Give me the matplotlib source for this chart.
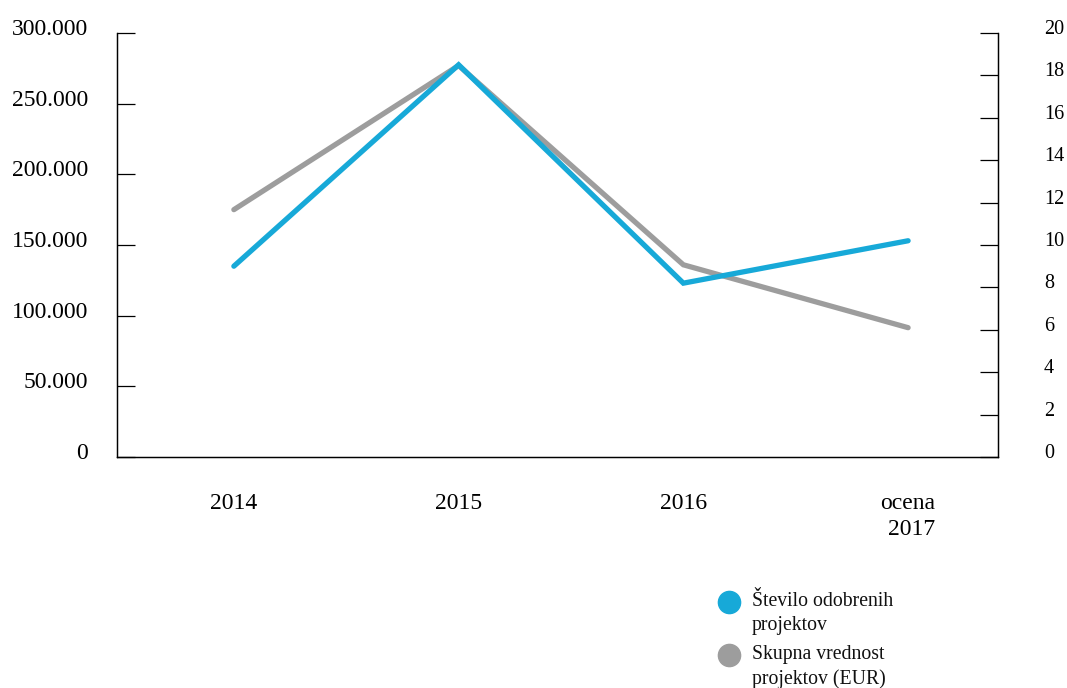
import matplotlib
matplotlib.use("Agg")
import matplotlib.pyplot as plt
from matplotlib.lines import Line2D
from matplotlib.transforms import ScaledTranslation

plt.rcParams['font.family'] = ['Liberation Serif', 'DejaVu Serif']

# podatki
years = ['2014', '2015', '2016', 'ocena\n2017']
stevilo = [9.0, 18.5, 8.2, 10.2]                  # desna os
vrednost = [175000, 277000, 136000, 91500]        # leva os (EUR)
left_ticks = [0, 50000, 100000, 150000, 200000, 250000, 300000]
left_labels = ['0', '50.000', '100.000', '150.000', '200.000', '250.000', '300.000']
right_ticks = list(range(0, 21, 2))

blue = '#17a9d8'
grey = '#9d9d9d'

fig = plt.figure(figsize=(10.67, 6.88), dpi=100)
ax = fig.add_axes([117/1067, 1 - 457/688, (998 - 117)/1067, (457 - 33)/688])
ax2 = ax.twinx()

x = list(range(len(years)))
ax.plot(x, vrednost, color=grey, lw=3.8, solid_capstyle='round', solid_joinstyle='miter')
ax2.plot(x, stevilo, color=blue, lw=3.8, solid_capstyle='round', solid_joinstyle='miter')

ax.set_xlim(-0.52, 3.4)
ax.set_ylim(0, 300000)
ax2.set_ylim(0, 20)

for a in (ax, ax2):
    a.spines['top'].set_visible(False)
    for s in a.spines.values():
        s.set_linewidth(0.9)

ax.set_yticks(left_ticks)
ax.set_yticklabels(left_labels)
ax.tick_params(axis='y', direction='in', length=13, width=0.9, pad=21, labelsize=17)
ax2.set_yticks(right_ticks)
ax2.tick_params(axis='y', direction='in', length=13, width=0.9, pad=33, labelsize=14.5)

ax.set_xticks(x)
ax.set_xticklabels(years, multialignment='right', linespacing=1.3)
ax.tick_params(axis='x', length=0, pad=26, labelsize=17)

# oznake osi malo dvignjene nad črtice
up = ScaledTranslation(0, 6/100, fig.dpi_scale_trans)
for lab in ax.get_yticklabels() + ax2.get_yticklabels():
    lab.set_transform(lab.get_transform() + up)

# legenda
items = [(blue, 'Število odobrenih\nprojektov', 602),
         (grey, 'Skupna vrednost\nprojektov (EUR)', 655)]
for col, txt, yy in items:
    fig.add_artist(Line2D([729/1067], [1 - yy/688], marker='o', markersize=16,
                          color=col, lw=0, transform=fig.transFigure))
    fig.text(752/1067, 1 - (yy - 10)/688, txt, fontsize=14.2, va='top',
             linespacing=1.33, color='#111111')

fig.savefig('out.png', dpi=100)
